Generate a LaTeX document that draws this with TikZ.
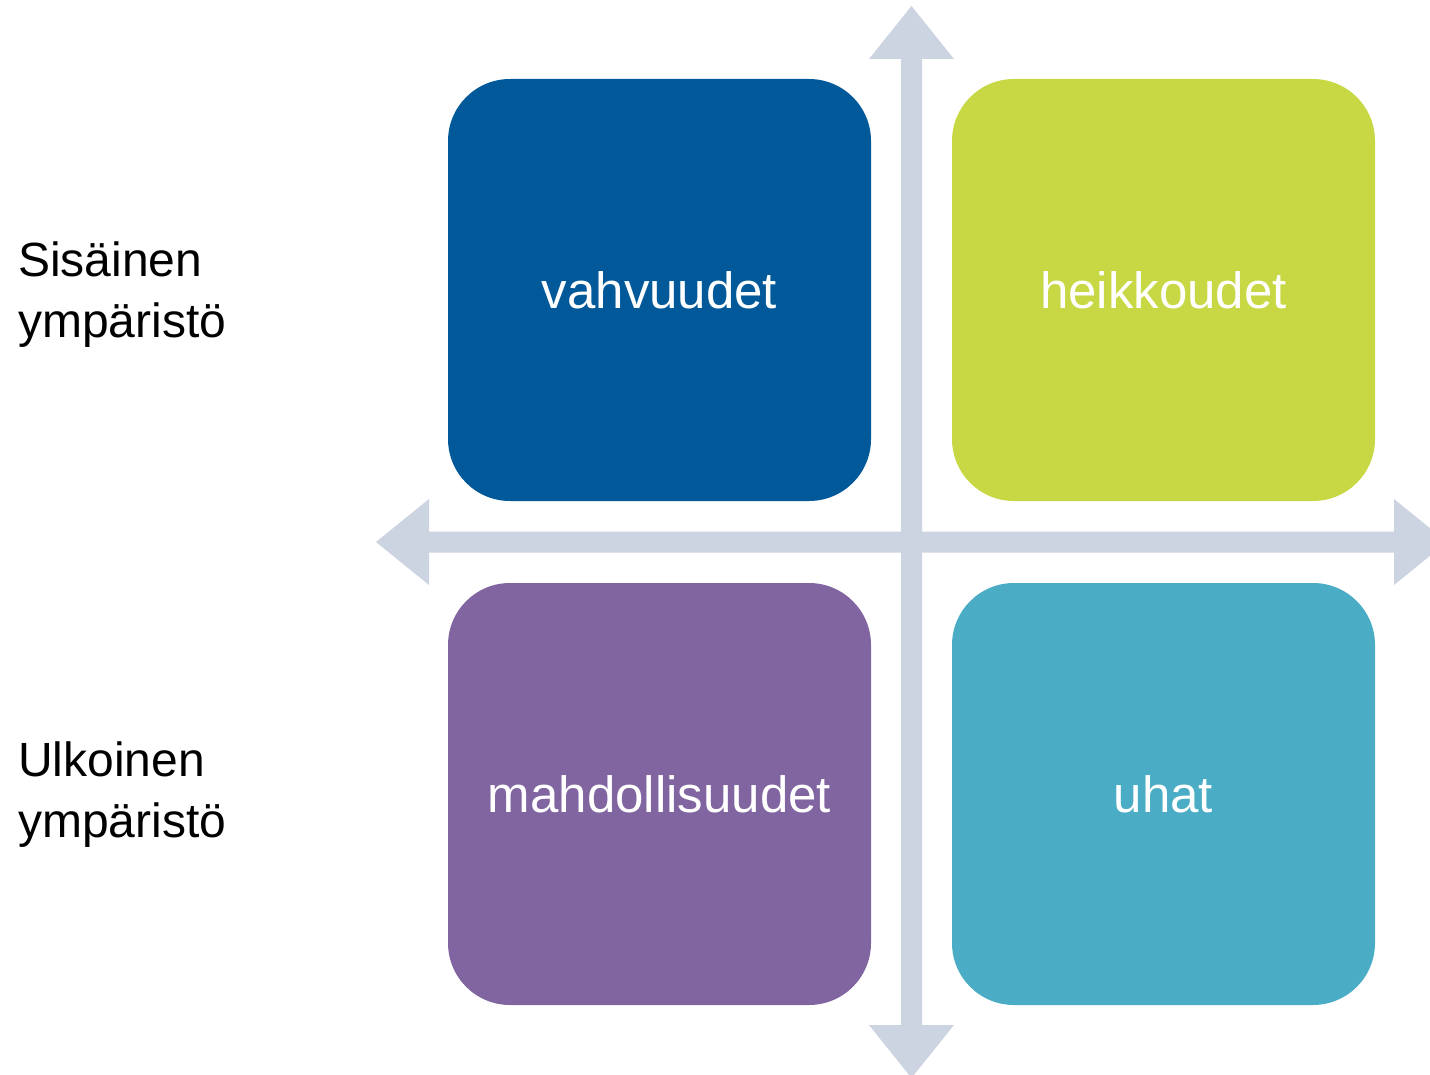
\documentclass[tikz,border=0pt]{standalone}
\usepackage{fontspec}
\setmainfont{Liberation Sans}
\definecolor{cblue}{HTML}{02599A}
\definecolor{cgreen}{HTML}{C8D845}
\definecolor{cpurple}{HTML}{8165A1}
\definecolor{cteal}{HTML}{4BACC6}
\definecolor{carrow}{HTML}{CCD3E1}
\begin{document}
\begin{tikzpicture}[x=1pt,y=-1pt,
  quad/.style={rectangle,rounded corners=62pt,minimum width=423pt,minimum height=422pt,inner sep=0pt,text=white,font=\fontsize{51}{60}\selectfont},
  sidelabel/.style={anchor=west,align=left,inner sep=0pt,font=\fontsize{48}{61}\selectfont},
  axis/.style={fill=carrow,draw=none}]
\useasboundingbox (0,0) rectangle (1430,1075);
% axes
\fill[axis] (376,542) -- (429,499) -- (429,531.5) -- (1394,531.5) -- (1394,499) -- (1447,542) -- (1394,585) -- (1394,552.5) -- (429,552.5) -- (429,585) -- cycle;
\fill[axis] (911.5,6) -- (954,59) -- (922,59) -- (922,1025) -- (954,1025) -- (911.5,1078) -- (869,1025) -- (901,1025) -- (901,59) -- (869,59) -- cycle;
% quadrants
\node[quad,fill=cblue] (s) at (659.5,290) {vahvuudet};
\node[quad,fill=cgreen] (w) at (1163.5,290) {heikkoudet};
\node[quad,fill=cpurple] (o) at (659.5,794) {mahdollisuudet};
\node[quad,fill=cteal] (t) at (1163.5,794) {uhat};
% side labels
\node[sidelabel] (int) at (18,295) {Sisäinen\\ympäristö};
\node[sidelabel] (ext) at (18,795) {Ulkoinen\\ympäristö};
\end{tikzpicture}
\end{document}
